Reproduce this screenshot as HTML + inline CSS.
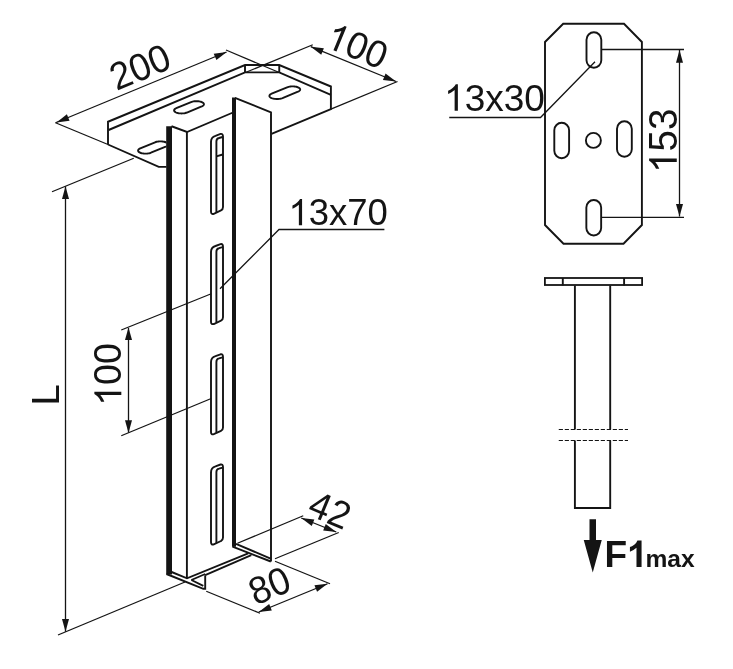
<!DOCTYPE html>
<html><head><meta charset="utf-8"><title>drawing</title>
<style>
html,body{margin:0;padding:0;background:#fff;}
body{width:733px;height:669px;overflow:hidden;}
svg{display:block;will-change:transform;filter:grayscale(1);}
svg text{font-family:"Liberation Sans",sans-serif;fill:#141414;stroke:none;}
</style></head><body>
<svg width="733" height="669" viewBox="0 0 733 669" stroke="#141414" stroke-linecap="butt" stroke-linejoin="miter">
<rect x="0" y="0" width="733" height="669" fill="#fff" stroke="none"/>
<path d="M108,144.5 L108,121.75 L245,65 L279.25,65 L330.9,86.5 L330.9,109.1 L271.5,133.9" stroke-width="1.9" fill="none" />
<path d="M108.6,130 L245,72.4 L279.25,72.4 L330.9,94.8" stroke-width="1.9" fill="none" />
<path d="M245,65 L245,72.4 M279.25,65 L279.25,72.4" stroke-width="1.9" fill="none" />
<path d="M108,144.5 L158.75,166.9 L167,166.9" stroke-width="1.9" fill="none" />
<path d="M155.06,142.28 L155.80,142.02 L156.62,141.79 L157.50,141.61 L158.43,141.47 L159.40,141.39 L160.38,141.36 L161.36,141.38 L162.33,141.46 L163.26,141.58 L164.14,141.76 L164.96,141.98 L165.70,142.24 L166.35,142.54 L166.90,142.87 L167.34,143.23 L167.66,143.61 L167.85,144.00 L167.92,144.41 L167.85,144.81 L167.66,145.20 L167.35,145.59 L166.92,145.95 L166.37,146.29 L165.72,146.59 L150.94,152.72 L150.20,152.98 L149.38,153.21 L148.50,153.39 L147.57,153.53 L146.60,153.61 L145.62,153.64 L144.64,153.62 L143.67,153.54 L142.74,153.42 L141.86,153.24 L141.04,153.02 L140.30,152.76 L139.65,152.46 L139.10,152.13 L138.66,151.77 L138.34,151.39 L138.15,151.00 L138.08,150.59 L138.15,150.19 L138.34,149.80 L138.65,149.41 L139.08,149.05 L139.63,148.71 L140.28,148.41 Z" stroke-width="1.9" fill="none" />
<path d="M191.06,102.08 L191.80,101.82 L192.62,101.59 L193.50,101.41 L194.43,101.27 L195.40,101.19 L196.38,101.16 L197.36,101.18 L198.33,101.26 L199.26,101.38 L200.14,101.56 L200.96,101.78 L201.70,102.04 L202.35,102.34 L202.90,102.67 L203.34,103.03 L203.66,103.41 L203.85,103.80 L203.92,104.21 L203.85,104.61 L203.66,105.00 L203.35,105.39 L202.92,105.75 L202.37,106.09 L201.72,106.39 L186.94,112.52 L186.20,112.78 L185.38,113.01 L184.50,113.19 L183.57,113.33 L182.60,113.41 L181.62,113.44 L180.64,113.42 L179.67,113.34 L178.74,113.22 L177.86,113.04 L177.04,112.82 L176.30,112.56 L175.65,112.26 L175.10,111.93 L174.66,111.57 L174.34,111.19 L174.15,110.80 L174.08,110.39 L174.15,109.99 L174.34,109.60 L174.65,109.21 L175.08,108.85 L175.63,108.51 L176.28,108.21 Z" stroke-width="1.9" fill="none" />
<path d="M287.09,87.31 L287.84,87.04 L288.67,86.81 L289.57,86.62 L290.52,86.49 L291.50,86.40 L292.50,86.37 L293.50,86.39 L294.48,86.47 L295.43,86.60 L296.33,86.77 L297.16,87.00 L297.92,87.27 L298.58,87.57 L299.14,87.91 L299.58,88.27 L299.91,88.66 L300.10,89.06 L300.17,89.47 L300.11,89.88 L299.91,90.28 L299.59,90.67 L299.15,91.04 L298.60,91.39 L297.94,91.70 L282.51,98.09 L281.76,98.36 L280.93,98.59 L280.03,98.78 L279.08,98.91 L278.10,99.00 L277.10,99.03 L276.10,99.01 L275.12,98.93 L274.17,98.80 L273.27,98.63 L272.44,98.40 L271.68,98.13 L271.02,97.83 L270.46,97.49 L270.02,97.13 L269.69,96.74 L269.50,96.34 L269.43,95.93 L269.49,95.52 L269.69,95.12 L270.01,94.73 L270.45,94.36 L271.00,94.01 L271.66,93.70 Z" stroke-width="1.9" fill="none" />
<polygon points="166.5,126.25 187,132 233,112.5 233,98 271.25,112.5 271.25,561.5 232.5,546.4 232.5,553 187,578.3 166.5,574" fill="#fff" stroke="none"/>
<line x1="169.1" y1="126.25" x2="169.1" y2="574.5" stroke-width="5.8" />
<path d="M171.5,126.25 L187,132 L233,112.5" stroke-width="1.9" fill="none" />
<line x1="186.9" y1="132" x2="186.9" y2="578.3" stroke-width="1.9" />
<line x1="234.0" y1="97.6" x2="234.0" y2="546.8" stroke-width="4.0" />
<path d="M235,97.8 L271.0,112.4 L271.0,561.5" stroke-width="1.9" fill="none" />
<path d="M166.5,574 L203.3,588.8 L205.2,588.8 L205.2,575.2" stroke-width="1.9" fill="none" />
<path d="M171.6,572 L187,578.3 L248.2,553.3" stroke-width="1.9" fill="none" />
<path d="M205.2,575.2 L251.3,555.2" stroke-width="1.9" fill="none" />
<path d="M191.4,580 L203.3,585.9" stroke-width="1.9" fill="none" />
<path d="M191.4,580 L205.2,574" stroke-width="1.9" fill="none" />
<path d="M232.5,546.6 L270.8,561.5" stroke-width="1.9" fill="none" />
<path d="M236,543.9 L270.6,558.6" stroke-width="1.9" fill="none" />
<path d="M211,141.80 Q211,137.00 215.5,135.80 L220.5,133.90 Q223,133.40 223,136.50 L223,207.00 Q223,209.60 221,210.40 L213.8,213.80 Q211,214.60 211,211.50 Z" stroke-width="1.9" fill="none" />
<path d="M216.4,212.30 L216.4,141.50 Q216.4,138.60 219,138.00 L222.6,137.00" stroke-width="1.9" fill="none" />
<path d="M216.4,156.4 L222.7,154.5" stroke-width="1.9" fill="none" />
<path d="M211,252.00 Q211,247.20 215.5,246.00 L220.5,244.10 Q223,243.60 223,246.70 L223,317.20 Q223,319.80 221,320.60 L213.8,324.00 Q211,324.80 211,321.70 Z" stroke-width="1.9" fill="none" />
<path d="M216.4,322.50 L216.4,251.70 Q216.4,248.80 219,248.20 L222.6,247.20" stroke-width="1.9" fill="none" />
<path d="M211,362.20 Q211,357.40 215.5,356.20 L220.5,354.30 Q223,353.80 223,356.90 L223,427.40 Q223,430.00 221,430.80 L213.8,434.20 Q211,435.00 211,431.90 Z" stroke-width="1.9" fill="none" />
<path d="M216.4,432.70 L216.4,361.90 Q216.4,359.00 219,358.40 L222.6,357.40" stroke-width="1.9" fill="none" />
<path d="M211,472.40 Q211,467.60 215.5,466.40 L220.5,464.50 Q223,464.00 223,467.10 L223,537.60 Q223,540.20 221,541.00 L213.8,544.40 Q211,545.20 211,542.10 Z" stroke-width="1.9" fill="none" />
<path d="M216.4,542.90 L216.4,472.10 Q216.4,469.20 219,468.60 L222.6,467.60" stroke-width="1.9" fill="none" />
<line x1="55.5" y1="122.75" x2="108" y2="144.5" stroke-width="1.3" />
<line x1="55.5" y1="122.75" x2="226.5" y2="52" stroke-width="1.3" />
<line x1="226" y1="50" x2="279.25" y2="72.5" stroke-width="1.3" />
<line x1="312.75" y1="44.75" x2="245.5" y2="72.5" stroke-width="1.3" />
<line x1="310.8" y1="46.7" x2="396" y2="81.5" stroke-width="1.3" />
<line x1="397.5" y1="81.5" x2="330.9" y2="109.1" stroke-width="1.3" />
<line x1="52" y1="191.75" x2="133.75" y2="158.25" stroke-width="1.3" />
<line x1="65.5" y1="186.25" x2="65.5" y2="631.75" stroke-width="1.3" />
<line x1="58" y1="635" x2="185" y2="582" stroke-width="1.3" />
<line x1="121.25" y1="330" x2="211.25" y2="293.75" stroke-width="1.3" />
<line x1="121.25" y1="435.75" x2="211.25" y2="398.5" stroke-width="1.3" />
<line x1="128.5" y1="328" x2="128.5" y2="432.5" stroke-width="1.3" />
<path d="M384.4,229.5 L279,229.5 L220,288.75" stroke-width="1.3" fill="none" />
<line x1="237.5" y1="543.25" x2="303.25" y2="515.75" stroke-width="1.3" />
<line x1="275" y1="558.75" x2="338.75" y2="532.5" stroke-width="1.3" />
<line x1="301.25" y1="518" x2="336.25" y2="532" stroke-width="1.3" />
<line x1="275" y1="561.25" x2="330" y2="583.75" stroke-width="1.3" />
<line x1="206.25" y1="591.25" x2="260" y2="613.25" stroke-width="1.3" />
<line x1="258.75" y1="612" x2="327.5" y2="583.75" stroke-width="1.3" />
<polygon points="56.50,122.40 66.89,114.30 69.57,120.77" fill="#141414" stroke="none"/>
<polygon points="226.80,52.00 216.41,60.10 213.73,53.63" fill="#141414" stroke="none"/>
<polygon points="310.80,46.70 323.88,48.26 321.23,54.74" fill="#141414" stroke="none"/>
<polygon points="396.00,81.50 382.92,79.94 385.57,73.46" fill="#141414" stroke="none"/>
<polygon points="65.50,186.25 69.00,198.95 62.00,198.95" fill="#141414" stroke="none"/>
<polygon points="65.50,631.75 62.00,619.05 69.00,619.05" fill="#141414" stroke="none"/>
<polygon points="128.50,327.40 132.00,340.10 125.00,340.10" fill="#141414" stroke="none"/>
<polygon points="128.50,433.00 125.00,420.30 132.00,420.30" fill="#141414" stroke="none"/>
<polygon points="301.25,518.00 314.34,519.47 311.74,525.97" fill="#141414" stroke="none"/>
<polygon points="336.25,532.00 323.16,530.53 325.76,524.03" fill="#141414" stroke="none"/>
<polygon points="258.75,612.00 269.17,603.94 271.83,610.41" fill="#141414" stroke="none"/>
<polygon points="327.50,583.75 317.08,591.81 314.42,585.34" fill="#141414" stroke="none"/>
<g transform="translate(139.9 67.0) rotate(-22.5) translate(-30.87 13.25)" font-size="37" font-weight="normal">
<text transform="translate(0.00 0) scale(1 1.04)">200</text>
</g>
<g transform="translate(357.3 45.7) rotate(22.5) translate(-30.87 13.25)" font-size="37" font-weight="normal">
<path transform="translate(0.00 0) scale(0.01807 -0.01807)" d="M763 0H583V1147Q518 1085 412.5 1023Q307 961 223 930V1104Q374 1175 487 1276Q600 1377 647 1472H763Z" fill="#141414" stroke="none"/>
<text transform="translate(20.58 0) scale(1 1.04)">00</text>
</g>
<g transform="translate(107.9 374.5) rotate(-90) translate(-31.28 13.42)" font-size="37.5" font-weight="normal">
<path transform="translate(0.00 0) scale(0.01831 -0.01831)" d="M763 0H583V1147Q518 1085 412.5 1023Q307 961 223 930V1104Q374 1175 487 1276Q600 1377 647 1472H763Z" fill="#141414" stroke="none"/>
<text transform="translate(20.86 0) scale(1 1.04)">00</text>
</g>
<g transform="translate(44.9 395) rotate(-90) translate(-10.57 13.60)" font-size="38" font-weight="normal">
<text transform="translate(0.00 0) scale(1 1.04)">L</text>
</g>
<g transform="translate(338.2 225.2) translate(-49.72 0.00)" font-size="36.5" font-weight="normal">
<path transform="translate(0.00 0) scale(0.01782 -0.01782)" d="M763 0H583V1147Q518 1085 412.5 1023Q307 961 223 930V1104Q374 1175 487 1276Q600 1377 647 1472H763Z" fill="#141414" stroke="none"/>
<text transform="translate(20.30 0) scale(1 1.02)">3x70</text>
</g>
<g transform="translate(330.0 510) rotate(22.5) translate(-20.58 13.25)" font-size="37" font-weight="normal">
<text transform="translate(0.00 0) scale(1 1.04)">42</text>
</g>
<g transform="translate(269.4 585.6) rotate(-22.5) translate(-20.58 13.25)" font-size="37" font-weight="normal">
<text transform="translate(0.00 0) scale(1 1.04)">80</text>
</g>
<path d="M563.2,23.75 L624.0,23.75 L641.9,42 L641.9,225 L623.5,243.7 L563.5,243.7 L545,225 L545,42 Z" stroke-width="1.9" fill="none" />
<rect x="586.50" y="32.30" width="14.8" height="35.4" rx="7.4" ry="7.4" fill="none" stroke-width="1.9"/>
<rect x="586.35" y="200.05" width="14.8" height="35.4" rx="7.4" ry="7.4" fill="none" stroke-width="1.9"/>
<rect x="554.30" y="122.80" width="14.8" height="35.4" rx="7.4" ry="7.4" fill="none" stroke-width="1.9"/>
<rect x="617.00" y="121.30" width="14.8" height="35.4" rx="7.4" ry="7.4" fill="none" stroke-width="1.9"/>
<circle cx="593.4" cy="140.4" r="7.5" fill="none" stroke-width="1.9"/>
<path d="M449.25,117.5 L540.5,117.5 L595,61.75" stroke-width="1.3" fill="none" />
<line x1="602" y1="49.5" x2="684" y2="49.5" stroke-width="1.3" />
<line x1="602" y1="217.4" x2="684" y2="217.4" stroke-width="1.3" />
<line x1="679.5" y1="50" x2="679.5" y2="216.5" stroke-width="1.3" />
<polygon points="679.50,50.00 683.00,62.70 676.00,62.70" fill="#141414" stroke="none"/>
<polygon points="679.50,216.60 676.00,203.90 683.00,203.90" fill="#141414" stroke="none"/>
<g transform="translate(494.5 110.8) translate(-50.41 0.00)" font-size="37" font-weight="normal">
<path transform="translate(0.00 0) scale(0.01807 -0.01807)" d="M763 0H583V1147Q518 1085 412.5 1023Q307 961 223 930V1104Q374 1175 487 1276Q600 1377 647 1472H763Z" fill="#141414" stroke="none"/>
<text transform="translate(20.58 0) scale(1 1.02)">3x30</text>
</g>
<g transform="translate(663.0 140.8) rotate(-90) translate(-32.12 13.78)" font-size="38.5" font-weight="normal">
<path transform="translate(0.00 0) scale(0.01880 -0.01880)" d="M763 0H583V1147Q518 1085 412.5 1023Q307 961 223 930V1104Q374 1175 487 1276Q600 1377 647 1472H763Z" fill="#141414" stroke="none"/>
<text transform="translate(21.41 0) scale(1 1.04)">53</text>
</g>
<rect x="544.9" y="278.0" width="97.2" height="7.0" fill="none" stroke-width="1.8"/>
<line x1="562.8" y1="278" x2="562.8" y2="285.5" stroke-width="1.9" />
<line x1="624.1" y1="278" x2="624.1" y2="285.5" stroke-width="1.9" />
<path d="M574.9,285.5 L574.9,429.5 M610.2,285.5 L610.2,429.5" stroke-width="1.9" fill="none" />
<path d="M574.9,440.5 L574.9,508 L610.2,508 L610.2,440.5" stroke-width="1.9" fill="none" />
<line x1="558.75" y1="429.5" x2="628" y2="429.5" stroke-width="1.0" stroke-dasharray="4.2 1.8"/>
<line x1="558.75" y1="440.5" x2="628" y2="440.5" stroke-width="1.0" stroke-dasharray="4.2 1.8"/>
<polygon points="589.5,519.25 596,519.25 596,540 601.75,540 592.75,572.5 583.75,540 589.5,540" fill="#141414" stroke="none"/>
<g transform="translate(604.4 567) translate(0.00 0.00)" font-size="37" font-weight="bold">
<text transform="translate(0.00 0) scale(1 1.0)">F</text>
<path transform="translate(22.60 0) scale(0.01807 -0.01807)" d="M806 0H525V1059Q371 915 162 846V1101Q272 1137 401 1237.5Q530 1338 578 1472H806Z" fill="#141414" stroke="none"/>
</g>
<g transform="translate(645.5 567) translate(0.00 0.00)" font-size="24.6" font-weight="bold">
<text transform="translate(0.00 0) scale(1 1.0)">max</text>
</g>
</svg>
</body></html>
